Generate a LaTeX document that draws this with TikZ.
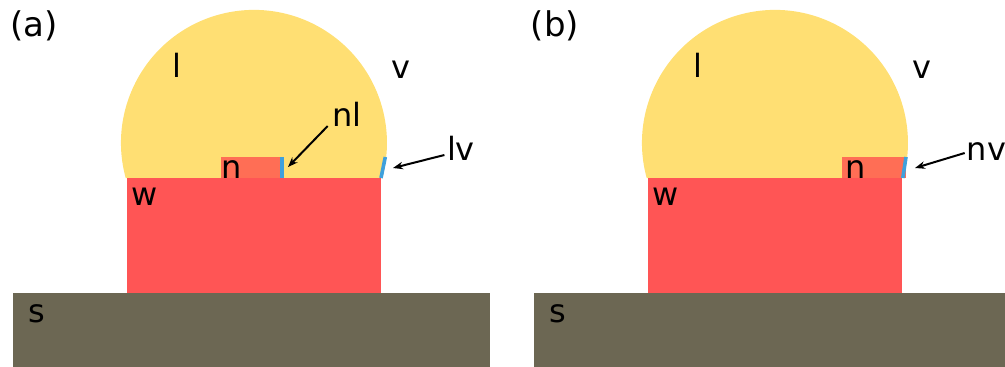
\documentclass[tikz,border=0pt]{standalone}
\usepackage{fontspec}
\setmainfont{DejaVu Sans}
\usetikzlibrary{arrows.meta}
\definecolor{liq}{HTML}{FFDF73}
\definecolor{wire}{HTML}{FF5555}
\definecolor{nuc}{HTML}{FF6E55}
\definecolor{sub}{HTML}{6C6753}
\definecolor{edgeb}{HTML}{3FA0DC}
\tikzset{
  x=1pt,y=-1pt,
  lab/.style={anchor=base,inner sep=0pt,font=\fontsize{32}{34}\selectfont,text=black},
  panellab/.style={lab,font=\fontsize{34}{36}\selectfont},
  callout/.style={draw=black,line width=2pt,-{Stealth[length=10pt,width=7.5pt]}},
  facet/.style={draw=edgeb,line width=3.6pt}
}
\newcommand{\panel}[1]{%
  \begin{scope}[xshift=#1pt]
    \fill[liq] (125.7,178) arc[start angle=164.7,end angle=375.3,radius=133] -- cycle;
    \fill[wire] (126.5,178) rectangle (381,293);
    \fill[sub] (13,293) rectangle (490,367);
  \end{scope}}
\begin{document}
\begin{tikzpicture}
\useasboundingbox (0,0) rectangle (1005,367);
\panel{0}
\panel{521}
% panel a details
\fill[nuc] (221,157) rectangle (284,178);
\draw[facet] (281.8,157) -- (281.8,178);
\draw[facet] (385.3,157) -- (381,178);
% panel b details
\fill[nuc] (842,157) rectangle (906,178);
\draw[facet] (906,157) -- (902.8,178);
% labels
\node[panellab] (pa) at (34,36.5) {(a)};
\node[lab] (la) at (176.5,77.5) {l};
\node[lab] (va) at (400.5,78) {v};
\node[lab] (nl) at (347,126) {nl};
\node[lab] (lv) at (461,160) {lv};
\node[lab] (na) at (232,178) {n};
\node[lab] (wa) at (145,205.5) {w};
\node[lab] (sa) at (36.5,322) {s};
\node[panellab] (pb) at (555,36.5) {(b)};
\node[lab] (lb) at (697.5,77.5) {l};
\node[lab] (vb) at (921.5,78) {v};
\node[lab] (nv) at (986.5,160) {nv};
\node[lab] (nb) at (856,178) {n};
\node[lab] (wb) at (666,205.5) {w};
\node[lab] (sb) at (557.5,322) {s};
% connectors
\coordinate (nlt) at (288,167);
\coordinate (lvt) at (393,168);
\coordinate (nvt) at (915,168);
\draw[callout] (nl.west |- 0,126) ++(-4.5,0) -- (nlt);
\draw[callout] (lv.west |- 0,155) ++(-2.5,0) -- (lvt);
\draw[callout] (nv.west |- 0,153) ++(-2,0) -- (nvt);
\end{tikzpicture}
\end{document}
